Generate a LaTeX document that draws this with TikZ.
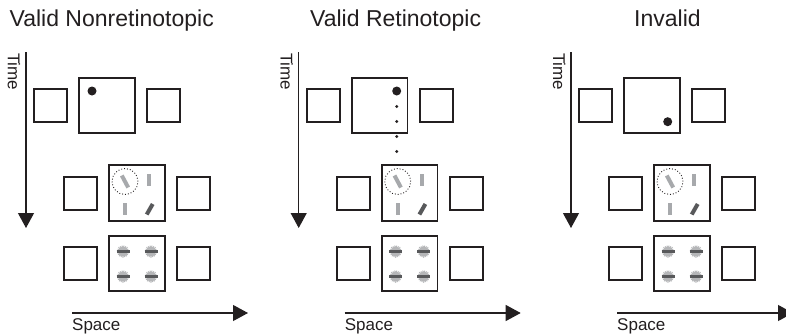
\documentclass[tikz,border=0pt]{standalone}
\usepackage{fontspec}
\setmainfont{Liberation Sans}
\usetikzlibrary{arrows.meta,calc}
\definecolor{ink}{HTML}{231F20}
\definecolor{barlight}{HTML}{A7A9AC}
\definecolor{bardark}{HTML}{58595B}
\definecolor{blob}{HTML}{B5B6B8}
\tikzset{
  smallbox/.style={draw=ink,line width=1.8pt,minimum size=33pt,inner sep=0pt},
  bigbox/.style={draw=ink,line width=1.8pt,minimum size=55.5pt,inner sep=0pt},
  axis/.style={draw=ink,line width=1.1pt,-{Triangle[length=15pt,width=16pt]}},
  axislabel/.style={font=\fontsize{17}{17}\selectfont,inner sep=0pt,text=ink},
  paneltitle/.style={font=\fontsize{23}{24}\selectfont,inner sep=0pt,text=ink,anchor=base west},
  lightbar/.style={draw=barlight,line width=4pt},
  darkbar/.style={draw=bardark,line width=4pt},
  cue/.style={draw=ink,line width=0.9pt,dotted},
  probe/.style={fill=ink},
  trace/.style={fill=ink},
}
% one panel: #1 name prefix, #2 horizontal shift, #3 position of the cue dot
\newcommand\stimpanel[3]{%
\begin{scope}[xshift=#2pt]
  % time axis
  \coordinate (#1-t0) at (26,52);
  \coordinate (#1-t1) at (26,228);
  \draw[axis] (#1-t0) -- (#1-t1);
  \node[axislabel,rotate=-90,anchor=base west] (#1-time) at (8,53) {Time};
  % space axis
  \coordinate (#1-s0) at (72,313);
  \coordinate (#1-s1) at (248,313);
  \draw[axis] (#1-s0) -- (#1-s1);
  \node[axislabel,anchor=base west] (#1-space) at (72,330) {Space};
  % first frame
  \node[smallbox] (#1-tl) at (50.5,105.5) {};
  \node[bigbox]   (#1-tc) at (107,105.5) {};
  \node[smallbox] (#1-tr) at (163.5,105.5) {};
  \fill[probe] (#3) circle[radius=4.5pt];
  % second frame
  \node[smallbox] (#1-ml) at (80.5,193.5) {};
  \node[bigbox]   (#1-mc) at (137,193) {};
  \node[smallbox] (#1-mr) at (193.5,193.5) {};
  \draw[cue] ($(#1-mc)+(-12,-11.5)$) circle[radius=13pt];
  \draw[lightbar] ($(#1-mc)+(-15.2,-17.5)$) -- ($(#1-mc)+(-8.8,-5.5)$);
  \draw[lightbar] ($(#1-mc)+(12.3,-19)$) -- ($(#1-mc)+(12.3,-7)$);
  \draw[lightbar] ($(#1-mc)+(-12,10)$) -- ($(#1-mc)+(-12,22)$);
  \draw[darkbar]  ($(#1-mc)+(15.7,11)$) -- ($(#1-mc)+(9.7,21.5)$);
  % third frame
  \node[smallbox] (#1-bl) at (80.5,263.5) {};
  \node[bigbox]   (#1-bc) at (137,263.5) {};
  \node[smallbox] (#1-br) at (193.5,263.5) {};
  \foreach \dx/\dy in {-14/-12,14/-12,-14/13,14/13}{
    \fill[blob] ($(#1-bc)+(\dx,\dy)$) circle[radius=5.2pt];
    \draw[blob,line width=1.3pt,dash pattern=on 0.9pt off 0.9pt] ($(#1-bc)+(\dx,\dy)$) circle[radius=5.6pt];
    \draw[bardark,line width=3.3pt] ($(#1-bc)+(\dx-6.5,\dy)$) -- ($(#1-bc)+(\dx+6.5,\dy)$);
  }
\end{scope}}

\begin{document}
\begin{tikzpicture}[x=1pt,y=-1pt]
  \useasboundingbox (0,0) rectangle (786,335);
  \fill[white] (0,0) rectangle (786,335);

  \node[paneltitle] (title1) at (9.5,26.7) {Valid Nonretinotopic};
  \node[paneltitle] (title2) at (310,26.7) {Valid Retinotopic};
  \node[paneltitle] (title3) at (634,26.7) {Invalid};

  \stimpanel{a}{0}{92,91}
  \stimpanel{b}{272.7}{124,91}
  % retinotopic trace of the cue
  \begin{scope}[xshift=272.7pt]
    \foreach \k in {0,...,3}{
      \fill[trace] (124,106.5+15*\k) circle[radius=1.6pt];
    }
  \end{scope}
  \stimpanel{c}{545}{122.7,121.7}
\end{tikzpicture}
\end{document}
